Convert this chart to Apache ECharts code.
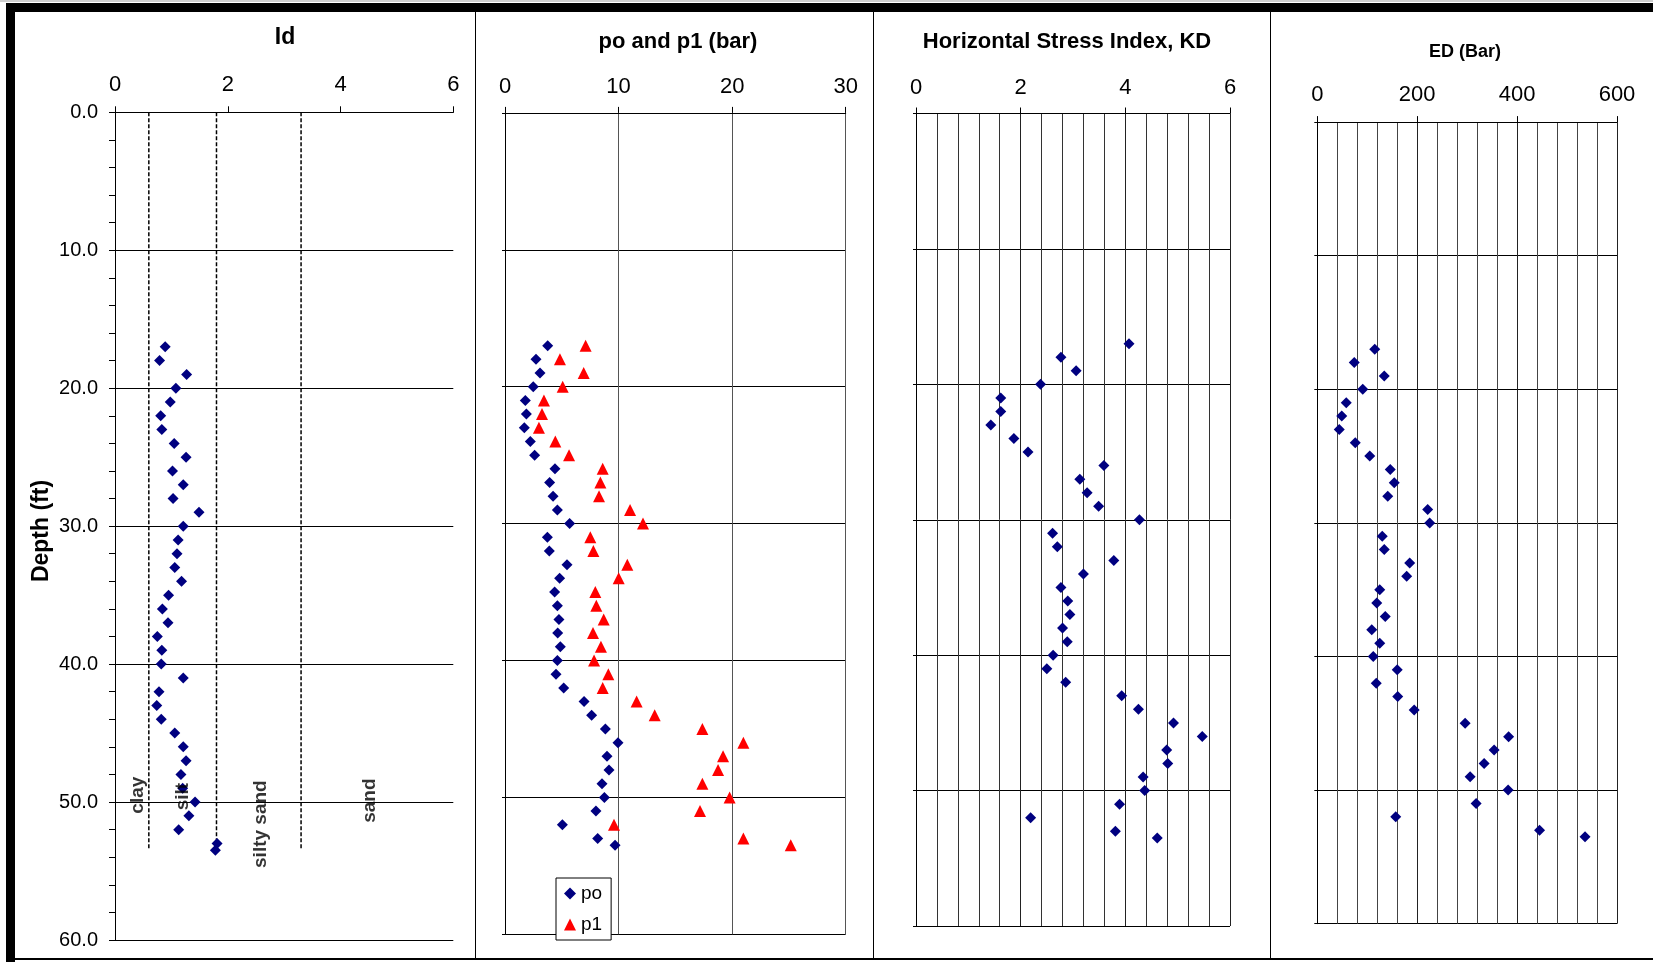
<!DOCTYPE html>
<html><head><meta charset="utf-8">
<script src="https://cdn.jsdelivr.net/npm/echarts/dist/echarts.min.js"></script>
<style>html,body{margin:0;padding:0;background:#fff}#c{width:1653px;height:962px}</style>
</head><body><div id="c"></div>
<script>
// ---- data (depth in ft) ----
const depths = [17,18,19,20,21,22,23,24,25,26,27,28,29,30,31,32,33,34,35,36,37,38,39,40,41,42,43,44,45,46,47,48,49,50,51,52,53,53.5];
const idValues = [0.89,0.79,1.27,1.08,0.98,0.81,0.83,1.05,1.26,1.02,1.21,1.03,1.49,1.21,1.12,1.10,1.06,1.18,0.95,0.84,0.94,0.75,0.83,0.82,1.21,0.78,0.74,0.82,1.06,1.21,1.26,1.17,1.20,1.42,1.31,1.13,1.81,1.78];
const poValues = [3.76,2.73,3.08,2.49,1.79,1.88,1.70,2.23,2.61,4.40,3.93,4.23,4.61,5.69,3.73,3.90,5.46,4.81,4.37,4.61,4.75,4.64,4.87,4.61,4.49,5.17,6.96,7.63,8.84,9.95,8.98,9.16,8.54,8.75,8.01,5.05,8.16,9.69];
const p1Values = [7.10,4.84,6.93,5.08,3.43,3.26,2.99,4.43,5.64,8.60,8.40,8.28,11.01,12.15,7.51,7.78,10.77,10.01,7.95,8.04,8.69,7.75,8.45,7.84,9.10,8.60,11.59,13.18,17.38,20.99,19.20,18.76,17.38,19.78,17.17,9.60,20.99,25.16];
const kdValues = [4.07,2.77,3.06,2.38,1.62,1.62,1.43,1.87,2.14,3.59,3.13,3.27,3.49,4.27,2.61,2.70,3.78,3.20,2.77,2.90,2.94,2.80,2.89,2.62,2.50,2.86,3.93,4.25,4.92,5.47,4.79,4.81,4.34,4.37,3.89,2.19,3.81,4.61];
const edValues = [115,74,134,91,58,49,44,76,105,146,154,141,221,225,130,134,185,179,125,119,136,109,125,112,160,118,161,194,296,383,354,334,306,382,318,157,445,536];
// soil classification boundaries for Id
const soilBounds = [0.6, 1.8, 3.3];
const soilBoundDepth = 53.5;
const soilNames = ['clay', 'silt', 'silty sand', 'sand'];
const soilLabelX = [0.40, 1.20, 2.59, 4.52];
const soilLabelDepth = [49.5, 49.6, 51.6, 49.9];
// axes
const depthMax = 60, depthStep = 10;
const idMax = 6, idStep = 2;
const pMax = 30, pStep = 10;
const kdMax = 6, kdStep = 2;
const edMax = 600, edStep = 200;

const FONT = 'Liberation Sans, Arial, sans-serif';
const chart = echarts.init(document.getElementById('c'), null, {renderer: 'canvas'});

const grids = [
  {left: 115, top: 112.3, width: 338.3, height: 827.7},
  {left: 505, top: 112.9, width: 340.7, height: 821.4},
  {left: 916, top: 113.5, width: 314, height: 812.5},
  {left: 1317.3, top: 122.1, width: 299.7, height: 801.6}
];

function xAx(i, max, step, opt) {
  return Object.assign({
    type: 'value', gridIndex: i, position: 'top', min: 0, max: max, interval: step,
    axisLine: {show: true, onZero: false, lineStyle: {color: '#000', width: 1}},
    axisTick: {show: true, length: 6, lineStyle: {color: '#000'}},
    axisLabel: {fontSize: 22, color: '#000', fontFamily: FONT, margin: 15},
    splitLine: {show: true, lineStyle: {color: '#444', width: 1}}
  }, opt || {});
}
function yAx(i, opt) {
  return Object.assign({
    type: 'value', gridIndex: i, min: 0, max: depthMax, interval: depthStep, inverse: true,
    axisLine: {show: true, onZero: false, lineStyle: {color: '#000', width: 1}},
    axisTick: {show: true, length: 3, lineStyle: {color: '#000'}},
    axisLabel: {show: false},
    splitLine: {show: true, lineStyle: {color: '#000', width: 1}}
  }, opt || {});
}

const xAxes = [
  xAx(0, idMax, idStep, {splitLine: {show: false}, axisLabel: {fontSize: 22, color: '#000', fontFamily: FONT, margin: 16}}),
  xAx(1, pMax, pStep, {splitLine: {show: true, lineStyle: {color: '#555', width: 1}}}),
  xAx(2, kdMax, kdStep, {minorTick: {show: false, splitNumber: 5}, minorSplitLine: {show: true, lineStyle: {color: '#333', width: 1}}, splitLine: {show: true, lineStyle: {color: '#222', width: 1}}}),
  xAx(3, edMax, edStep, {minorTick: {show: false, splitNumber: 5}, minorSplitLine: {show: true, lineStyle: {color: '#444', width: 1}}, splitLine: {show: true, lineStyle: {color: '#222', width: 1}}, axisLabel: {fontSize: 22, color: '#000', fontFamily: FONT, margin: 16}})
];
const yAxes = [
  yAx(0, {
    axisTick: {show: true, length: 6, lineStyle: {color: '#000'}},
    minorTick: {show: true, splitNumber: 5, length: 6, lineStyle: {color: '#000'}},
    axisLabel: {show: true, fontSize: 20, color: '#000', fontFamily: FONT, margin: 17, formatter: v => v.toFixed(1)}
  }),
  yAx(1), yAx(2), yAx(3)
];

const navy = '#000080';
const series = [];
series.push({type: 'scatter', name: 'Id', xAxisIndex: 0, yAxisIndex: 0, symbol: 'diamond', symbolSize: 11,
  itemStyle: {color: navy, opacity: 1}, data: depths.map((d, k) => [idValues[k], d]), z: 5});
soilBounds.forEach((b, k) => series.push({
  type: 'line', name: 'bound' + k, xAxisIndex: 0, yAxisIndex: 0, symbol: 'none', silent: true,
  lineStyle: {color: '#000', width: 1.5, type: [4, 2]}, data: [[b, 0], [b, soilBoundDepth]], z: 3
}));
series.push({type: 'scatter', name: 'soil', xAxisIndex: 0, yAxisIndex: 0, symbol: 'circle', symbolSize: 1, silent: true,
  itemStyle: {color: 'rgba(0,0,0,0)'},
  label: {show: true, position: 'inside', rotate: 90, formatter: '{b}', fontSize: 19, fontWeight: 'bold', color: '#000', fontFamily: FONT},
  data: soilNames.map((n, k) => ({name: n, value: [soilLabelX[k], soilLabelDepth[k]]})), z: 6});
series.push({type: 'scatter', name: 'po', xAxisIndex: 1, yAxisIndex: 1, symbol: 'diamond', symbolSize: 11,
  itemStyle: {color: navy, opacity: 1}, data: depths.map((d, k) => [poValues[k], d]), z: 5});
series.push({type: 'scatter', name: 'p1', xAxisIndex: 1, yAxisIndex: 1, symbol: 'triangle', symbolSize: 12,
  itemStyle: {color: '#ff0000', opacity: 1}, data: depths.map((d, k) => [p1Values[k], d]), z: 5});
series.push({type: 'scatter', name: 'KD', xAxisIndex: 2, yAxisIndex: 2, symbol: 'diamond', symbolSize: 11,
  itemStyle: {color: navy, opacity: 1}, data: depths.map((d, k) => [kdValues[k], d]), z: 5});
series.push({type: 'scatter', name: 'ED', xAxisIndex: 3, yAxisIndex: 3, symbol: 'diamond', symbolSize: 11,
  itemStyle: {color: navy, opacity: 1}, data: depths.map((d, k) => [edValues[k], d]), z: 5});

function txt(t, x, y, size, rot) {
  return {type: 'text', x: x, y: y, rotation: rot || 0, silent: true,
    style: {text: t, fill: '#000', font: 'bold ' + size + 'px ' + FONT, align: 'center', verticalAlign: 'middle'}};
}
function rect(x, y, w, h, c) {
  return {type: 'rect', silent: true, shape: {x: x, y: y, width: w, height: h}, style: {fill: c || '#000'}};
}

chart.setOption({
  animation: false,
  backgroundColor: '#fff',
  textStyle: {fontFamily: FONT},
  grid: grids,
  xAxis: xAxes,
  yAxis: yAxes,
  legend: {
    data: ['po', 'p1'], orient: 'vertical', left: 556, top: 878,
    backgroundColor: '#fff', borderColor: '#000', borderWidth: 1, borderRadius: 0,
    padding: [6, 9, 6, 8], itemGap: 12, itemWidth: 12, itemHeight: 12,
    textStyle: {fontSize: 19, color: '#000', fontFamily: FONT}
  },
  graphic: [
    rect(0, 0, 1653, 2, '#cfcfcf'),
    rect(6, 3, 1647, 9),
    rect(6, 3, 9, 959),
    rect(6, 958, 1647, 2),
    rect(475, 12, 1, 947),
    rect(873, 12, 1, 947),
    rect(1270, 12, 1, 947),
    txt('Id', 285, 38, 23),
    txt('po and p1 (bar)', 678, 42, 22),
    txt('Horizontal Stress Index, KD', 1067, 42, 22),
    txt('ED (Bar)', 1465, 52, 18),
    txt('Depth (ft)', 42, 531, 23, Math.PI / 2)
  ],
  series: series
});
</script>
</body></html>
